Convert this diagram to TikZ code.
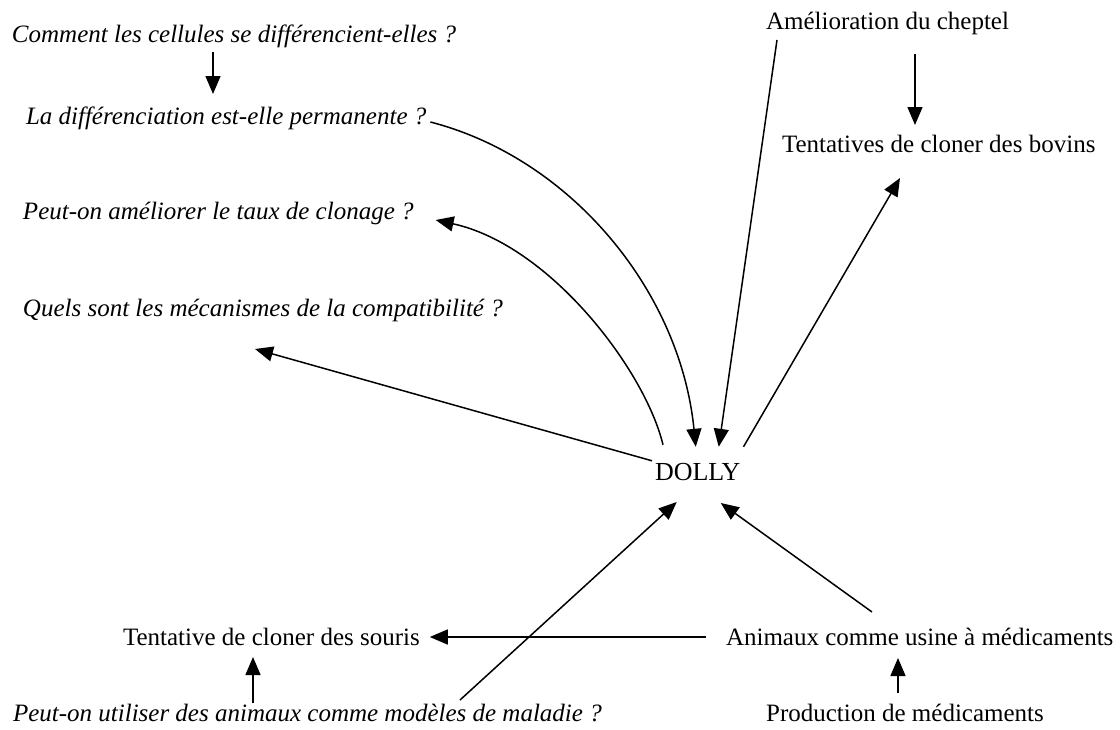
\documentclass[tikz,border=0pt]{standalone}
\usepackage{fontspec}
\setmainfont{Liberation Serif}
\usetikzlibrary{arrows.meta,calc}
\begin{document}
\begin{tikzpicture}[x=1pt,y=-1pt,
  lbl/.style={inner sep=0pt,outer sep=0pt,anchor=base west,font=\fontsize{25}{30}\selectfont},
  qlbl/.style={lbl,font=\fontsize{25}{30}\selectfont\itshape},
  link/.style={line width=1.5pt,black},
  arr/.style={link,-{Triangle[length=18pt,width=15pt]}}]
\useasboundingbox (0,0) rectangle (1120,729);
\fill[white] (0,0) rectangle (1120,729);

% nodes
\node[qlbl] (comment) at (12,42) {Comment les cellules se différencient-elles ?};
\node[qlbl] (perm) at (26,124) {La différenciation est-elle permanente ?};
\node[qlbl] (taux) at (23,219) {Peut-on améliorer le taux de clonage ?};
\node[qlbl] (quels) at (23,316) {Quels sont les mécanismes de la compatibilité ?};
\node[lbl] (amel) at (766,29) {Amélioration du cheptel};
\node[lbl] (bovins) at (782,152) {Tentatives de cloner des bovins};
\node[lbl,font=\fontsize{26}{30}\selectfont] (dolly) at (655,480) {DOLLY};
\node[lbl] (souris) at (123,645) {Tentative de cloner des souris};
\node[lbl] (animaux) at (726,645) {Animaux comme usine à médicaments};
\node[qlbl] (maladie) at (13,721) {Peut-on utiliser des animaux comme modèles de maladie ?};
\node[lbl,anchor=base] (prod) at (905,721) {Production de médicaments};

% connectors
\draw[arr] ($(comment.base west)+(201,10)$) -- ($(perm.base west)+(187,-30)$);
\draw[arr] ($(perm.base east)+(4,-2)$) .. controls (570,158) and (680,290) .. ($(dolly.north)+(-2,-16)$);
\draw[arr] ($(dolly.north west)+(8,-18)$) .. controls (645,370) and (550,245) .. ($(taux.base east)+(22,1)$);
\draw[arr] ($(dolly.north west)+(-3,-2)$) -- ($(quels.base west)+(232,33)$);
\draw[arr] ($(amel.base west)+(11,11)$) -- ($(dolly.north)+(21,-16)$);
\draw[arr] ($(amel.base west)+(149,25)$) -- ($(bovins.base west)+(133,-27)$);
\draw[arr] ($(dolly.north east)+(3,-16)$) -- ($(bovins.base west)+(118,26)$);
\draw[arr] ($(maladie.base west)+(447,-21)$) -- ($(dolly.base)+(-21,22)$);
\draw[arr] ($(animaux.base west)+(146,-33)$) -- ($(dolly.base)+(23,23)$);
\draw[arr] ($(animaux.base west)+(-20,-8)$) -- ($(souris.base east)+(10,-8)$);
\draw[arr] ($(maladie.base west)+(240,-18)$) -- ($(souris.base west)+(130,12)$);
\draw[arr] ($(prod.base)+(-7,-28)$) -- ($(animaux.base west)+(172,13)$);
\end{tikzpicture}
\end{document}
